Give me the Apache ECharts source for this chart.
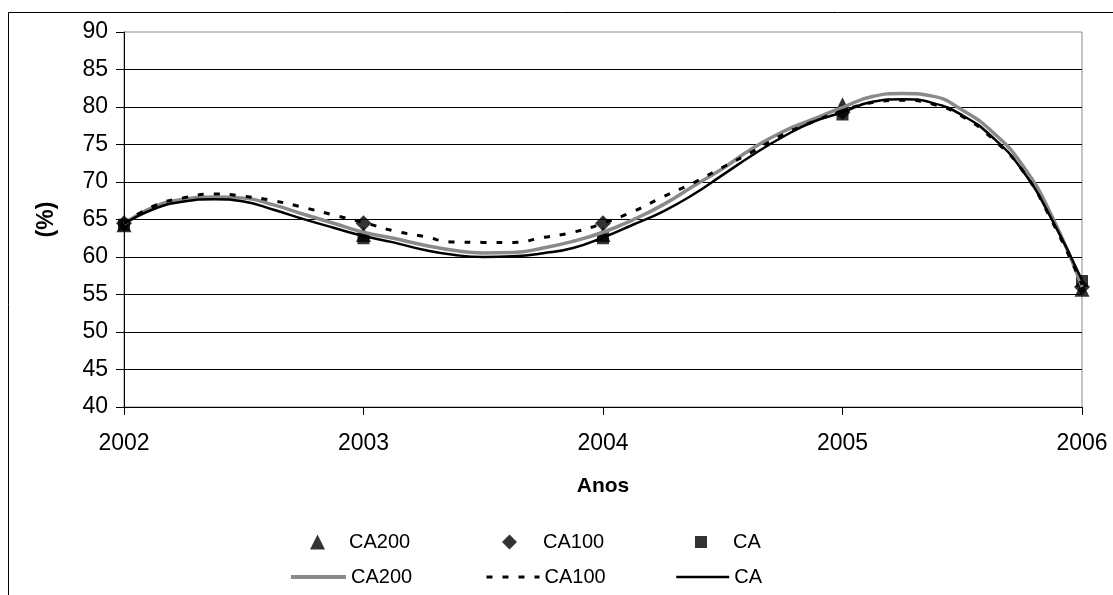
<!DOCTYPE html>
<html>
<head>
<meta charset="utf-8">
<script src="https://cdn.jsdelivr.net/npm/echarts@6/dist/echarts.min.js"></script>
<style>
html,body{margin:0;padding:0;background:#fff;}
#chart{width:1113px;height:595px;}
</style>
</head>
<body>
<div id="chart"></div>
<script>
// Marker data (years and values)
var years = [2002, 2003, 2004, 2005, 2006];
var ca200Points = [64.3, 63.0, 63.0, 80.3, 55.7];
var ca100Points = [64.5, 64.5, 64.5, 79.3, 56.0];
var caPoints    = [64.3, 62.5, 62.5, 79.0, 56.8];

// Trend curves every 1/8 year
var curveYears = [2002, 2002.125, 2002.25, 2002.375, 2002.5, 2002.625, 2002.75, 2002.875,
                  2003, 2003.125, 2003.25, 2003.375, 2003.5, 2003.625, 2003.75, 2003.875,
                  2004, 2004.125, 2004.25, 2004.375, 2004.5, 2004.625, 2004.75, 2004.875,
                  2005, 2005.125, 2005.25, 2005.375, 2005.5, 2005.625, 2005.75, 2005.875, 2006];
var ca200Curve = [64.4, 66.7, 67.7, 68.0, 67.85, 66.95, 65.7, 64.5,
                  63.3, 62.5, 61.6, 60.9, 60.55, 60.6, 61.2, 62.1,
                  63.3, 64.96, 66.95, 69.4, 71.8, 74.5, 76.7, 78.35,
                  79.95, 81.4, 81.8, 81.45, 79.6, 76.7, 72.3, 65.4, 56.0];
var ca100Curve = [64.5, 66.8, 67.9, 68.4, 68.1, 67.5, 66.6, 65.6,
                  64.6, 63.5, 62.75, 62.0, 61.95, 61.95, 62.6, 63.3,
                  64.5, 66.06, 68.0, 69.85, 71.97, 74.05, 76.3, 78.0,
                  79.5, 80.6, 80.9, 80.4, 78.75, 75.8, 71.6, 64.75, 56.3];
var caCurve    = [64.4, 66.4, 67.4, 67.7, 67.4, 66.3, 65.05, 63.9,
                  62.8, 61.95, 60.97, 60.3, 60.0, 60.1, 60.5, 61.2,
                  62.6, 64.3, 66.06, 68.3, 70.95, 73.6, 76.0, 78.0,
                  79.3, 80.7, 81.05, 80.55, 78.9, 76.0, 71.6, 64.96, 56.9];

function pairs(xs, ys){ return xs.map(function(x,i){ return [x, ys[i]]; }); }

var FONT = 'Liberation Sans, Arial, sans-serif';
var chart = echarts.init(document.getElementById('chart'), null, {renderer:'canvas'});

function legendItem(name, icon, left, top, w, h, pad, lineStyle){
  var l = {
    data: [icon ? {name: name, icon: icon} : {name: name}],
    left: left, top: top, padding: 0,
    itemWidth: w, itemHeight: h, itemGap: 0,
    selectedMode: false,
    formatter: function(n){ return n.split('_')[0]; },
    textStyle: {fontFamily: FONT, fontSize: 20, color: '#000', padding: [0,0,0,pad]}
  };
  if (lineStyle) { l.itemStyle = {opacity: 0}; l.lineStyle = lineStyle; }
  return l;
}

chart.setOption({
  animation: false,
  backgroundColor: '#fff',
  graphic: [{
    type: 'rect', silent: true,
    shape: {x: 8.5, y: 12.5, width: 1300, height: 800},
    style: {fill: 'none', stroke: '#000', lineWidth: 1}
  }],
  grid: {left: 124, top: 32, width: 958, height: 375, show: true, borderColor: '#8a8a8a', borderWidth: 1, backgroundColor: 'transparent'},
  xAxis: {
    type: 'value', min: 2002, max: 2006, interval: 1,
    name: 'Anos', nameLocation: 'middle', nameGap: 69,
    nameTextStyle: {fontFamily: FONT, fontSize: 21, fontWeight: 'bold', color: '#000'},
    axisLine: {show: true, lineStyle: {color: '#000', width: 1}},
    axisTick: {show: true, length: 8, lineStyle: {color: '#000'}},
    axisLabel: {margin: 25, fontFamily: FONT, fontSize: 23, color: '#000', formatter: function(v){ return String(v); }},
    splitLine: {show: false}
  },
  yAxis: {
    type: 'value', min: 40, max: 90, interval: 5,
    name: '(%)', nameLocation: 'middle', nameGap: 66, nameRotate: 90,
    nameTextStyle: {fontFamily: FONT, fontSize: 23, fontWeight: 'bold', color: '#000'},
    axisLine: {show: true, lineStyle: {color: '#000', width: 1}},
    axisTick: {show: true, length: 8, lineStyle: {color: '#000'}},
    axisLabel: {margin: 16, fontFamily: FONT, fontSize: 23, color: '#000'},
    splitLine: {show: true, showMaxLine: false, showMinLine: false, lineStyle: {color: '#000', width: 1}}
  },
  legend: [
    legendItem('CA200_m', 'triangle', 310, 532, 15, 15, 19, null),
    legendItem('CA100_m', 'diamond', 502, 532, 15, 15, 21, null),
    legendItem('CA_m', 'rect', 695, 532, 12, 12, 21, null),
    legendItem('CA200_l', null, 289, 567, 55, 4, 0, {color: '#8a8a8a', width: 4}),
    legendItem('CA100_l', null, 485, 567, 53, 3, 0, {color: '#000', width: 3, type: [6, 10]}),
    legendItem('CA_l', null, 675, 567, 53, 3, 0, {color: '#000', width: 2.5})
  ],
  series: [
    {name: 'CA200_m', type: 'scatter', symbol: 'triangle', symbolSize: 15, itemStyle: {color: '#000'}, data: pairs(years, ca200Points), z: 2},
    {name: 'CA100_m', type: 'scatter', symbol: 'diamond', symbolSize: 16, itemStyle: {color: '#000'}, data: pairs(years, ca100Points), z: 2},
    {name: 'CA_m', type: 'scatter', symbol: 'rect', symbolSize: 12, itemStyle: {color: '#000'}, data: pairs(years, caPoints), z: 2},
    {name: 'CA200_l', type: 'line', symbol: 'none', smooth: true, data: pairs(curveYears, ca200Curve),
     lineStyle: {color: '#8a8a8a', width: 3.5}, itemStyle: {color: '#8a8a8a'}, z: 3},
    {name: 'CA100_l', type: 'line', symbol: 'none', smooth: true, data: pairs(curveYears, ca100Curve),
     lineStyle: {color: '#000', width: 3, type: [6, 10]}, itemStyle: {color: '#000'}, z: 4},
    {name: 'CA_l', type: 'line', symbol: 'none', smooth: true, data: pairs(curveYears, caCurve),
     lineStyle: {color: '#000', width: 2.5}, itemStyle: {color: '#000'}, z: 5}
  ]
});
</script>
</body>
</html>
